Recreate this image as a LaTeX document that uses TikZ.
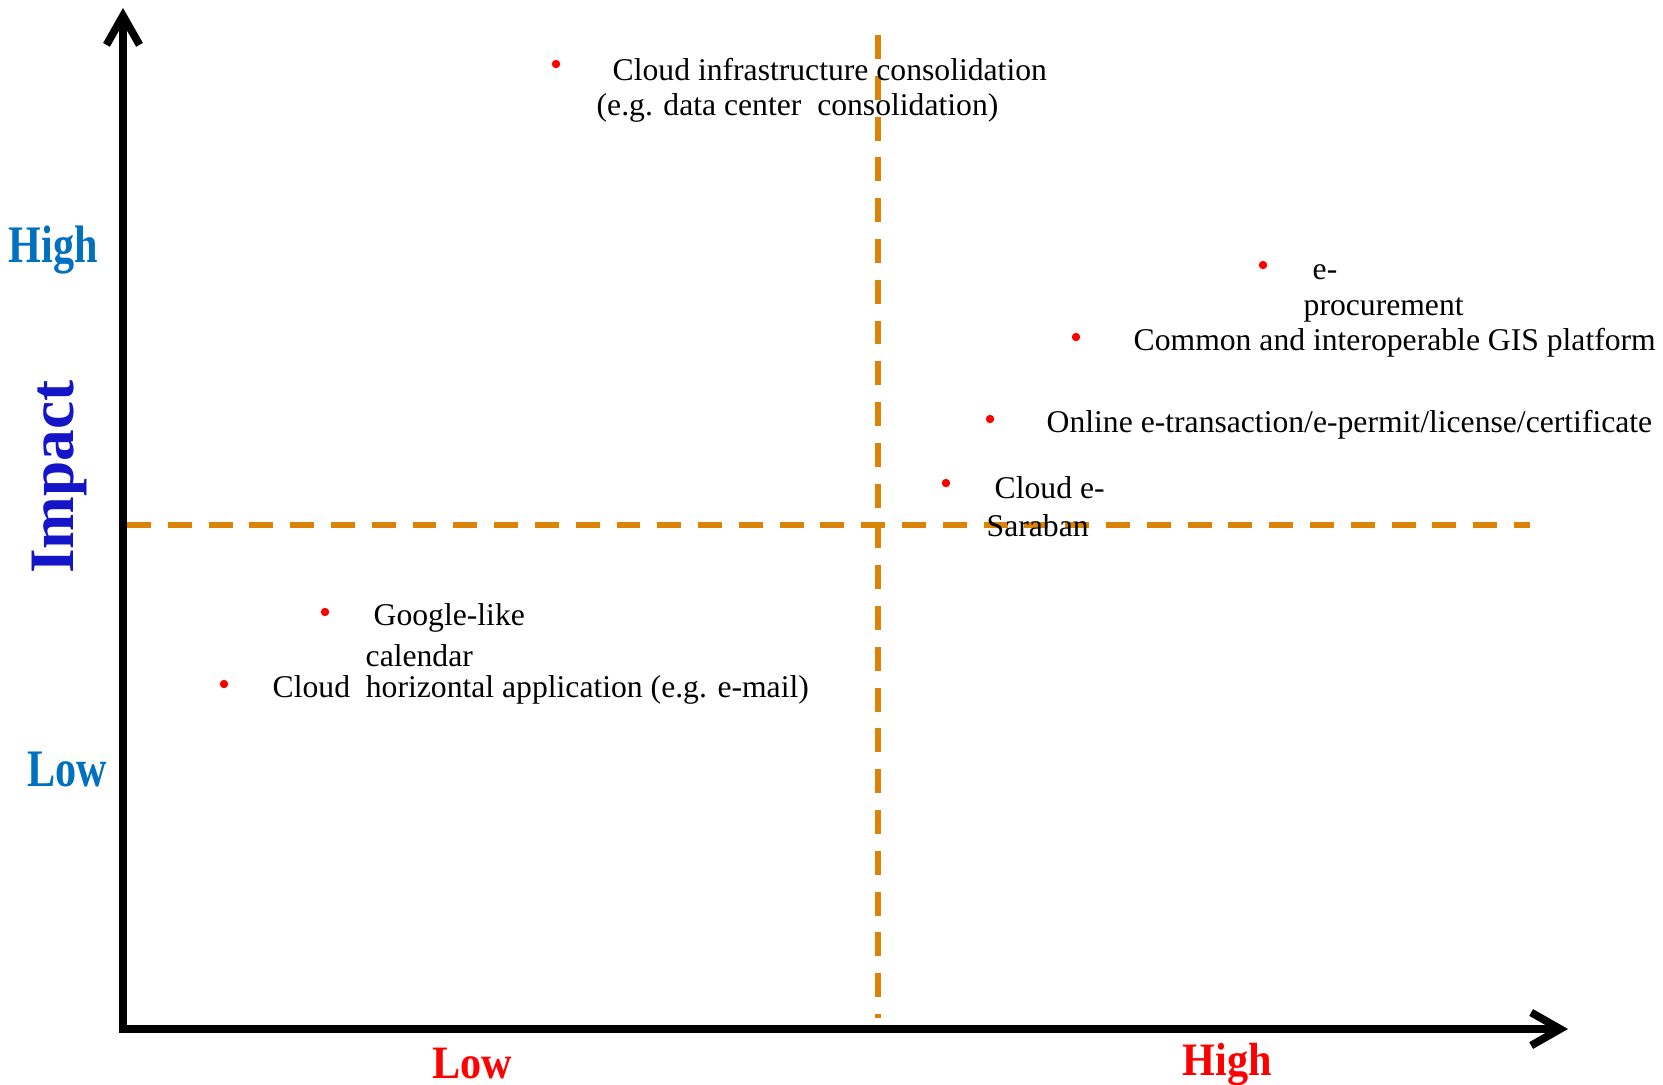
\documentclass[tikz,border=0pt]{standalone}
\usepackage{fontspec}
\setmainfont{Liberation Serif}
\usetikzlibrary{arrows.meta}
\definecolor{quadorange}{HTML}{DA8305}
\definecolor{levelblue}{HTML}{0070C0}
\definecolor{impactblue}{HTML}{1414C8}
\tikzset{
  axisline/.style={line width=2.2pt,-{Straight Barb[length=2.9mm,width=3.3mm]}},
  divider/.style={quadorange,line width=1.8pt,dash pattern=on 6.8pt off 4.8pt},
  item/.style={anchor=west,inner sep=0pt,font=\fontsize{9}{10.8}\selectfont},
  level/.style={inner sep=0pt,font=\bfseries\fontsize{12}{14}\selectfont}
}
\begin{document}
\begin{tikzpicture}[x=0.01cm,y=-0.01cm]
                \useasboundingbox (0,0) rectangle (1663,1084);
                % quadrant dividers
                \draw[divider] (878,35) -- (878,1018);
                \draw[divider] (127,525) -- (1530,525);
                % axes
                \draw[axisline] (123,1029) -- (123,8);
                \draw[axisline] (119,1029) -- (1568,1029);
                % axis labels
                \node[level,levelblue] (impHigh) at (53,250) {\scalebox{1}[1.25]{High}};
                \node[level,levelblue] (impLow) at (67,769) {\scalebox{1}[1.25]{Low}};
                \node[inner sep=0pt,impactblue,rotate=90,font=\bfseries\fontsize{18}{20}\selectfont] (impact) at (60,477) {Impact};
                \node[level,red] (effLow) at (472,1064) {\scalebox{1}[1.1]{Low}};
                \node[level,red] (effHigh) at (1227,1064) {\scalebox{1}[1.1]{High}};
                % items
                \fill[red] (556,64) circle (1.2pt);
                \node[item] (infra) at (612,70) {Cloud infrastructure consolidation};
                \node[item] (infraEg) at (596,108) {(e.g. data center~ consolidation)};
                \fill[red] (1263,265) circle (1.2pt);
                \node[item] (eproc) at (1312,272) {e-};
                \node[item] (eprocB) at (1303,310) {procurement};
                \fill[red] (1076,337) circle (1.2pt);
                \node[item] (gis) at (1133,343) {Common and interoperable GIS platform};
                \fill[red] (990,419) circle (1.2pt);
                \node[item] (etrans) at (1046,425) {Online e-transaction/e-permit/license/certificate};
                \fill[red] (946,483) circle (1.2pt);
                \node[item] (sara) at (994,488) {Cloud e-};
                \node[item] (saraB) at (986,526) {Saraban};
                \fill[red] (325,612) circle (1.2pt);
                \node[item] (gcal) at (373,618) {Google-like};
                \node[item] (gcalB) at (365,656) {calendar};
                \fill[red] (224,684) circle (1.2pt);
                \node[item] (horiz) at (272,690) {Cloud~ horizontal application (e.g. e-mail)};
            \end{tikzpicture}
\end{document}
